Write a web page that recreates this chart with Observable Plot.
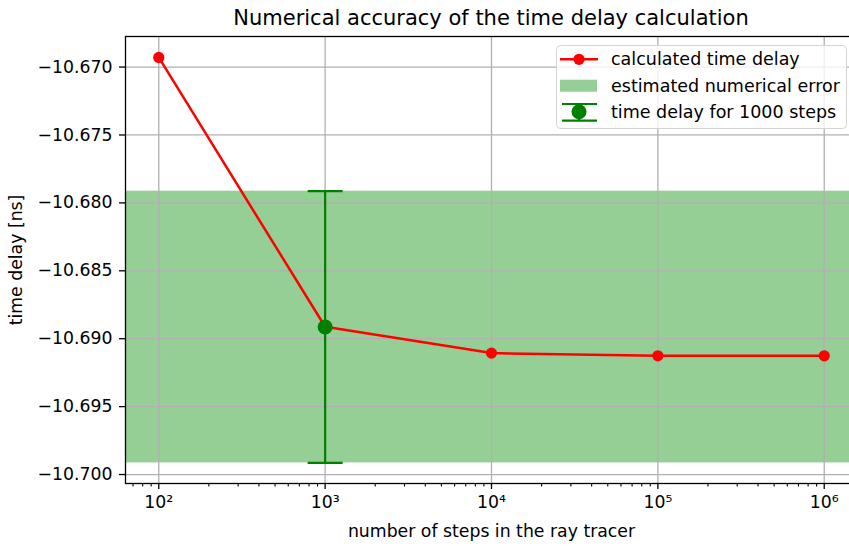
<!DOCTYPE html>
<html><head><meta charset="utf-8">
<script src="https://cdn.jsdelivr.net/npm/d3@7"></script>
<script src="https://cdn.jsdelivr.net/npm/@observablehq/plot@0.6"></script>
<style>
html,body{margin:0;padding:0;background:#fff;overflow:hidden;}
#wrap{position:relative;width:849px;height:546px;overflow:hidden;font-family:"DejaVu Sans",sans-serif;}
#chart{position:absolute;left:0;top:0;width:857px;}
#chart svg{max-width:none !important;}
#title{position:absolute;left:125px;width:732px;top:6px;line-height:24px;text-align:center;font-size:21px;color:#000;}
#legend{position:absolute;left:556px;top:45px;}
</style></head><body>
<div id="wrap">
  <div id="chart"></div>
  <div id="title">Numerical accuracy of the time delay calculation</div>
  <svg id="legend" width="292" height="86" font-family="DejaVu Sans" font-size="17.5">
    <rect x="0.5" y="0.5" width="290" height="83" rx="4" ry="4" fill="rgba(255,255,255,0.8)" stroke="#d4d4d4" stroke-width="1"></rect>
    <line x1="4" x2="42" y1="14.3" y2="14.3" stroke="#ff0000" stroke-width="2.5"></line>
    <circle cx="23" cy="14.3" r="5.6" fill="#ff0000"></circle>
    <text id="lg0" x="55" y="14.3" dominant-baseline="central" fill="#000"></text>
    <rect x="4" y="34.7" width="37" height="12" fill="#2ca02c" fill-opacity="0.5"></rect>
    <text id="lg1" x="55" y="40.7" dominant-baseline="central" fill="#000"></text>
    <line x1="6" x2="41" y1="59" y2="59" stroke="green" stroke-width="2.2"></line>
    <line x1="6" x2="41" y1="75.7" y2="75.7" stroke="green" stroke-width="2.2"></line>
    <line x1="23" x2="23" y1="59" y2="75.7" stroke="green" stroke-width="2.2"></line>
    <circle cx="23" cy="66.7" r="7.5" fill="green"></circle>
    <text id="lg2" x="55" y="66.7" dominant-baseline="central" fill="#000"></text>
  </svg>
</div>
<script>
// ---- data ----
const steps = [1e2, 1e3, 1e4, 1e5, 1e6];
const delays = [-10.66929, -10.68912, -10.69106, -10.69126, -10.69126];
const refStep = 1e3;
const refDelay = -10.68914;
const refError = 0.0100;
const legendLabels = ["calculated time delay", "estimated numerical error", "time delay for 1000 steps"];
const xTicks = [1e2, 1e3, 1e4, 1e5, 1e6];
const xTickLabels = ["10²", "10³", "10⁴", "10⁵", "10⁶"];
const yTicks = [-10.670, -10.675, -10.680, -10.685, -10.690, -10.695, -10.700];
const xDomain = [Math.pow(10, 1.8), Math.pow(10, 6.2)];
const yDomain = [-10.70066, -10.66775];

legendLabels.forEach((t, i) => document.getElementById("lg" + i).textContent = t);

const xMinor = [];
for (let e = 1; e <= 6; e++) for (let m = 2; m <= 9; m++) {
  const v = m * Math.pow(10, e);
  if (v > xDomain[0] && v < xDomain[1]) xMinor.push(v);
}

const series = steps.map((s, i) => ({step: s, delay: delays[i]}));
const band = [{y1: refDelay - refError, y2: refDelay + refError}];
const ref = [{step: refStep, delay: refDelay, lo: refDelay - refError, hi: refDelay + refError}];
const caps = [{step: refStep, y: refDelay - refError}, {step: refStep, y: refDelay + refError}];

const capSymbol = {
  draw(context, size) {
    const h = Math.sqrt(size / Math.PI);
    context.moveTo(-h, 0);
    context.lineTo(h, 0);
  }
};

const fmtY = d3.format(".3f");

const chart = Plot.plot({
  width: 857,
  height: 546,
  marginLeft: 125,
  marginRight: 0,
  marginTop: 36,
  marginBottom: 63,
  style: {fontFamily: "DejaVu Sans", fontSize: "17.3px", color: "#000", background: "transparent", maxWidth: "none"},
  x: {type: "log", domain: xDomain},
  y: {domain: yDomain},
  marks: [
    Plot.rect(band, {y1: "y1", y2: "y2", fill: "#2ca02c", fillOpacity: 0.5}),
    Plot.gridX(xTicks, {stroke: "#b0b0b0", strokeOpacity: 1, strokeWidth: 1.3}),
    Plot.gridY(yTicks, {stroke: "#b0b0b0", strokeOpacity: 1, strokeWidth: 1.3}),
    Plot.axisX(xMinor, {tickSize: 3.5, tickFormat: () => "", strokeWidth: 1.1, label: null}),
    Plot.axisX(xTicks, {tickSize: 6, tickPadding: 6, strokeWidth: 1.3,
      tickFormat: d => xTickLabels[xTicks.indexOf(d)],
      label: "number of steps in the ray tracer", labelAnchor: "center", labelArrow: "none", labelOffset: 53}),
    Plot.axisY(yTicks, {tickSize: 6, tickPadding: 7, strokeWidth: 1.3,
      tickFormat: d => fmtY(d),
      label: "time delay [ns]", labelAnchor: "center", labelArrow: "none", labelOffset: 116}),
    Plot.line(series, {x: "step", y: "delay", stroke: "#ff0000", strokeWidth: 2.5}),
    Plot.dot(series, {x: "step", y: "delay", r: 5.6, fill: "#ff0000"}),
    Plot.ruleX(ref, {x: "step", y1: "lo", y2: "hi", stroke: "green", strokeWidth: 2.2}),
    Plot.dot(caps, {x: "step", y: "y", symbol: capSymbol, r: 17.5, stroke: "green", strokeWidth: 2.2, fill: "none"}),
    Plot.dot(ref, {x: "step", y: "delay", r: 7.5, fill: "green"}),
    Plot.frame({stroke: "#000", strokeWidth: 1.3})
  ]
});
document.getElementById("chart").appendChild(chart);
</script>
</body></html>
